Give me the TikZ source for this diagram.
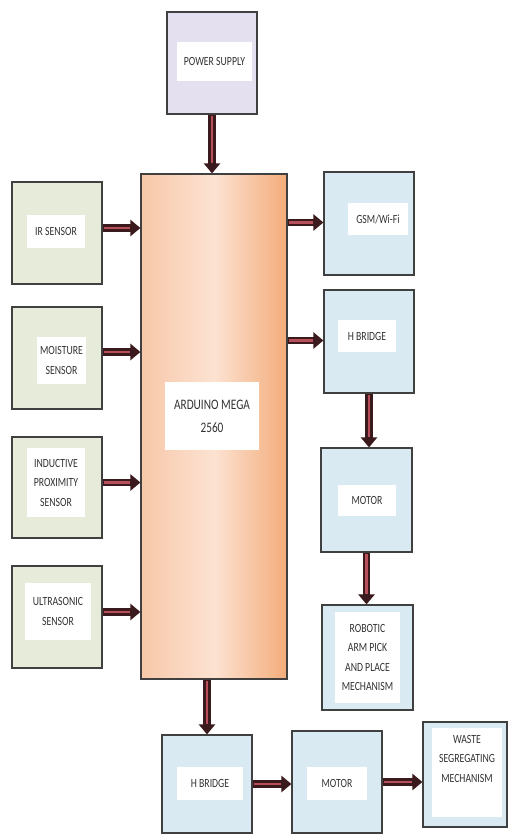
\documentclass[tikz,border=0pt]{standalone}
\usepackage{fontspec}
\newfontfamily\lblfont[FakeStretch=0.78]{Carlito}
\usetikzlibrary{arrows.meta}
\definecolor{arrdark}{HTML}{3A1A1C}
\definecolor{arrred}{HTML}{B8505C}
\definecolor{psfill}{HTML}{E4E0EF}
\definecolor{senfill}{HTML}{E7ECDA}
\definecolor{outfill}{HTML}{DAEAF3}
\definecolor{edge}{HTML}{404040}
\definecolor{ardL}{HTML}{F7C8A8}
\definecolor{ardM}{HTML}{FCE2D2}
\definecolor{ardR}{HTML}{F3AC7A}
\tikzset{
  box/.style={draw=edge, line width=1.2pt, inner sep=0pt},
  lbl/.style={fill=white, inner sep=0pt, align=center, text=black!80,
    font=\lblfont\fontsize{12.5}{19.5}\selectfont},
  fat/.style={draw=arrdark, line width=7.5pt, -{Triangle[length=10pt,width=16pt]},
    postaction={draw=arrred, line width=2.8pt, -, shorten <=1.5pt, shorten >=10pt}}
}
\begin{document}
\begin{tikzpicture}[x=1pt,y=-1pt]
\useasboundingbox (0,0) rectangle (508,834);
% power supply
\node[box, fill=psfill, minimum width=90pt, minimum height=102pt] (ps) at (212,63) {};
\node[lbl, minimum width=75pt, minimum height=39pt] (psL) at (214.5,61.5) {POWER SUPPLY};
% arduino
\node[box, left color=ardL, right color=ardR, middle color=ardM, minimum width=146pt, minimum height=505pt] (ard) at (214,426.5) {};
\node[lbl, minimum width=94pt, minimum height=68pt, font=\lblfont\fontsize{14.5}{23}\selectfont] (ardL) at (212,416) {ARDUINO MEGA\\2560};
% sensors
\node[box, fill=senfill, minimum width=90pt, minimum height=102pt] (ir) at (57,233) {};
\node[lbl, minimum width=58pt, minimum height=33pt] (irL) at (56,231.5) {IR SENSOR};
\node[box, fill=senfill, minimum width=90pt, minimum height=102pt] (mo) at (57,358) {};
\node[lbl, minimum width=49pt, minimum height=47pt] (moL) at (61.5,360.5) {MOISTURE\\SENSOR};
\node[box, fill=senfill, minimum width=90pt, minimum height=101pt] (ind) at (57,487.5) {};
\node[lbl, minimum width=58pt, minimum height=69pt] (indL) at (56,482.5) {INDUCTIVE\\PROXIMITY\\SENSOR};
\node[box, fill=senfill, minimum width=90pt, minimum height=102pt] (us) at (57,617) {};
\node[lbl, minimum width=66pt, minimum height=57pt] (usL) at (58,611.5) {ULTRASONIC\\SENSOR};
% right column
\node[box, fill=outfill, minimum width=90pt, minimum height=103pt] (gsm) at (369,223.5) {};
\node[lbl, minimum width=60pt, minimum height=32pt] (gsmL) at (378,219) {GSM/Wi-Fi};
\node[box, fill=outfill, minimum width=90pt, minimum height=103pt] (hb1) at (369,341.5) {};
\node[lbl, minimum width=58pt, minimum height=32pt] (hb1L) at (367,336) {H BRIDGE};
\node[box, fill=outfill, minimum width=91pt, minimum height=104pt] (mot1) at (366.5,500) {};
\node[lbl, minimum width=58pt, minimum height=31pt] (mot1L) at (367,500.5) {MOTOR};
\node[box, fill=outfill, minimum width=91pt, minimum height=105pt] (rob) at (367.5,657.5) {};
\node[lbl, minimum width=65pt, minimum height=91pt] (robL) at (367.5,657.5) {ROBOTIC\\ARM PICK\\AND PLACE\\MECHANISM};
% bottom row
\node[box, fill=outfill, minimum width=90pt, minimum height=98pt] (hb2) at (207,784) {};
\node[lbl, minimum width=66pt, minimum height=33pt] (hb2L) at (210,783.5) {H BRIDGE};
\node[box, fill=outfill, minimum width=90pt, minimum height=102pt] (mot2) at (337,782) {};
\node[lbl, minimum width=60pt, minimum height=33pt] (mot2L) at (337,783.5) {MOTOR};
\node[box, fill=outfill, minimum width=84pt, minimum height=105pt] (ws) at (465,774.5) {};
\node[lbl, minimum width=70pt, minimum height=89pt] (wsL) at (467,772.5) {WASTE\\SEGREGATING\\MECHANISM\\[8pt]};
% arrows
\draw[fat] (ps.south) -- (ps.south |- ard.north);
\draw[fat] ([yshift=5pt]ir.east) -- ([yshift=5pt]ir.east -| ard.west);
\draw[fat] ([yshift=6pt]mo.east) -- ([yshift=6pt]mo.east -| ard.west);
\draw[fat] ([yshift=5pt]ind.east) -- ([yshift=5pt]ind.east -| ard.west);
\draw[fat] ([yshift=5pt]us.east) -- ([yshift=5pt]us.east -| ard.west);
\draw[fat] ([yshift=1pt]gsm.west -| ard.east) -- ([yshift=1pt]gsm.west);
\draw[fat] ([yshift=1pt]hb1.west -| ard.east) -- ([yshift=1pt]hb1.west);
\draw[fat] (hb1.south) -- (hb1.south |- mot1.north);
\draw[fat] (mot1.south) -- (mot1.south |- rob.north);
\draw[fat] (ard.south -| hb2.north) -- (hb2.north);
\draw[fat] (hb2.east) -- (hb2.east -| mot2.west);
\draw[fat] (mot2.east) -- (mot2.east -| ws.west);
\end{tikzpicture}
\end{document}
